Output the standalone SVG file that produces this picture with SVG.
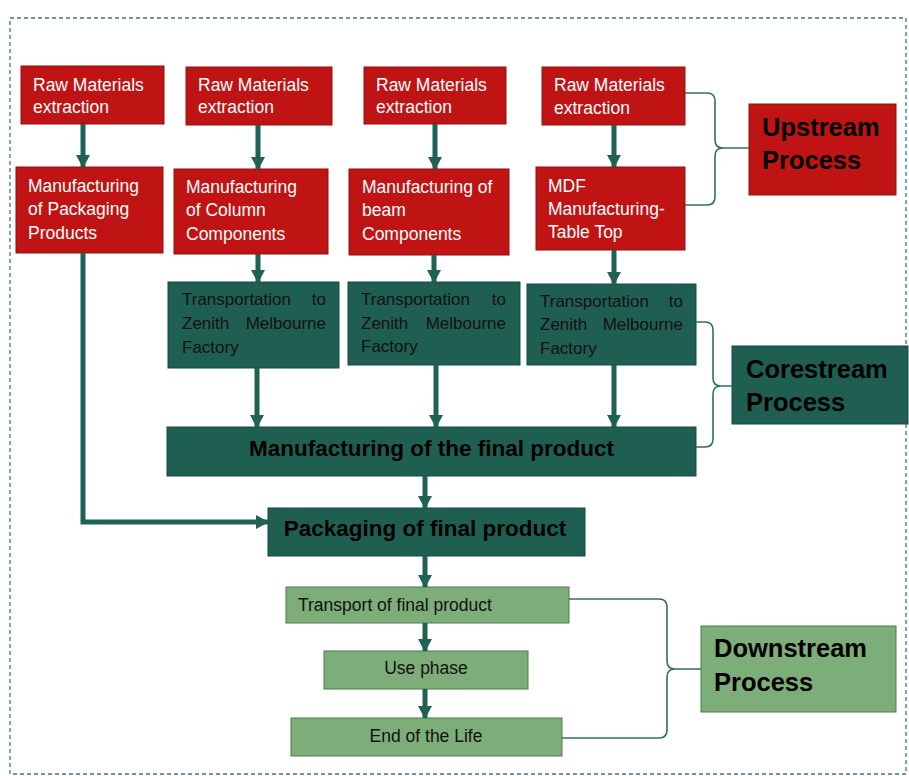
<svg xmlns="http://www.w3.org/2000/svg" width="909" height="776" viewBox="0 0 909 776">
<defs>
<marker id="ah" markerUnits="userSpaceOnUse" markerWidth="14" markerHeight="14" refX="12" refY="7" orient="auto">
<path d="M0,0 L13,7 L0,14 Z" fill="#1f6152"/>
</marker>
<style>
text{font-family:"Liberation Sans",Arial,sans-serif;}
.red rect{fill:#c01414;stroke:#8f1111;stroke-width:1;}
.red text{fill:#ffffff;font-size:17.5px;}
.teal rect{fill:#1f5f51;stroke:#174a40;stroke-width:1;}
.teal text{fill:#111;font-size:17px;}
.lg rect{fill:#7dad78;stroke:#4f7d4c;stroke-width:1;}
.lg text{fill:#111;font-size:17.5px;}
svg g text.big{font-size:25.5px;font-weight:bold;fill:#000;}
svg g text.bold{font-size:22.5px;font-weight:bold;fill:#000;}
.arrow{stroke:#1f6152;stroke-width:5;fill:none;marker-end:url(#ah);}
.brace{stroke:#2d7063;stroke-width:1.6;fill:none;}
</style>
</defs>
<rect width="909" height="776" fill="#ffffff"/>
<rect x="10" y="18" width="896" height="756" fill="none" stroke="#3f7a70" stroke-width="1.3" stroke-dasharray="4 3"/>

<g id="raw1" class="red"><rect x="21" y="66" width="143" height="58"/><text x="33" y="91">Raw Materials</text><text x="33" y="113">extraction</text></g>
<g id="raw2" class="red"><rect x="186" y="67" width="146" height="58"/><text x="198" y="91">Raw Materials</text><text x="198" y="113">extraction</text></g>
<g id="raw3" class="red"><rect x="364" y="67" width="142" height="57"/><text x="376" y="91">Raw Materials</text><text x="376" y="113">extraction</text></g>
<g id="raw4" class="red"><rect x="542" y="67" width="143" height="58"/><text x="554" y="91">Raw Materials</text><text x="554" y="114">extraction</text></g>

<g id="mfgPack" class="red"><rect x="16" y="167" width="147" height="86"/><text x="28" y="192">Manufacturing</text><text x="28" y="215">of Packaging</text><text x="28" y="239">Products</text></g>
<g id="mfgCol" class="red"><rect x="174" y="169" width="154" height="85"/><text x="186" y="193">Manufacturing</text><text x="186" y="216">of Column</text><text x="186" y="240">Components</text></g>
<g id="mfgBeam" class="red"><rect x="349" y="169" width="160" height="86"/><text x="362" y="193">Manufacturing of</text><text x="362" y="216">beam</text><text x="362" y="240">Components</text></g>
<g id="mdf" class="red"><rect x="536" y="167" width="149" height="83"/><text x="548" y="192">MDF</text><text x="548" y="215">Manufacturing-</text><text x="548" y="238">Table Top</text></g>

<g id="upstream" class="red"><rect x="749" y="104" width="147" height="91"/><text class="big" x="762" y="136">Upstream</text><text class="big" x="762" y="169">Process</text></g>

<g id="trans1" class="teal"><rect x="168" y="282" width="171" height="86"/><text x="182" y="305">Transportation</text><text x="326" y="305" text-anchor="end">to</text><text x="182" y="329">Zenith</text><text x="326" y="329" text-anchor="end">Melbourne</text><text x="182" y="353">Factory</text></g>
<g id="trans2" class="teal"><rect x="348" y="282" width="172" height="83"/><text x="361" y="305">Transportation</text><text x="506" y="305" text-anchor="end">to</text><text x="361" y="329">Zenith</text><text x="506" y="329" text-anchor="end">Melbourne</text><text x="361" y="352">Factory</text></g>
<g id="trans3" class="teal"><rect x="527" y="284" width="169" height="81"/><text x="540" y="307">Transportation</text><text x="683" y="307" text-anchor="end">to</text><text x="540" y="330">Zenith</text><text x="683" y="330" text-anchor="end">Melbourne</text><text x="540" y="354">Factory</text></g>

<g id="corestream" class="teal"><rect x="732" y="346" width="176" height="78"/><text class="big" x="746" y="378">Corestream</text><text class="big" x="746" y="411">Process</text></g>

<g id="finalMfg" class="teal"><rect x="167" y="427" width="529" height="49"/><text class="bold" x="431.5" y="456" text-anchor="middle">Manufacturing of the final product</text></g>
<g id="packaging" class="teal"><rect x="268" y="508" width="317" height="48"/><text class="bold" x="425" y="536" text-anchor="middle">Packaging of final product</text></g>

<g id="transportFinal" class="lg"><rect x="286" y="587" width="283" height="36"/><text x="298" y="611">Transport of final product</text></g>
<g id="use" class="lg"><rect x="324" y="651" width="204" height="38"/><text x="426" y="674" text-anchor="middle">Use phase</text></g>
<g id="eol" class="lg"><rect x="291" y="718" width="271" height="38"/><text x="426" y="742" text-anchor="middle">End of the Life</text></g>
<g id="downstream" class="lg"><rect x="701" y="626" width="195" height="86"/><text class="big" x="714" y="657">Downstream</text><text class="big" x="714" y="691">Process</text></g>

<g id="connectors">
<path class="arrow" d="M83,124 V167"/>
<path class="arrow" d="M258,125 V169"/>
<path class="arrow" d="M435,124 V169"/>
<path class="arrow" d="M614,125 V167"/>
<path class="arrow" d="M258,254 V282"/>
<path class="arrow" d="M434,255 V282"/>
<path class="arrow" d="M614,250 V284"/>
<path class="arrow" d="M257,368 V427"/>
<path class="arrow" d="M436,365 V427"/>
<path class="arrow" d="M614,365 V427"/>
<path class="arrow" d="M425,476 V508"/>
<path class="arrow" d="M83,253 V522 H268"/>
<path class="arrow" d="M425,556 V587"/>
<path class="arrow" d="M425,623 V651"/>
<path class="arrow" d="M425,689 V718"/>
<path class="brace" d="M685,93 H707 Q715,93 715,101 V140 Q715,148 723,148 H749 M723,148 Q715,148 715,156 V197 Q715,205 707,205 H685"/>
<path class="brace" d="M696,322 H705 Q713,322 713,330 V378 Q713,386 721,386 H732 M721,386 Q713,386 713,394 V439 Q713,447 705,447 H696"/>
<path class="brace" d="M569,599 H659 Q667,599 667,607 V661 Q667,669 675,669 H701 M675,669 Q667,669 667,677 V730 Q667,738 659,738 H562"/>
</g>
</svg>
